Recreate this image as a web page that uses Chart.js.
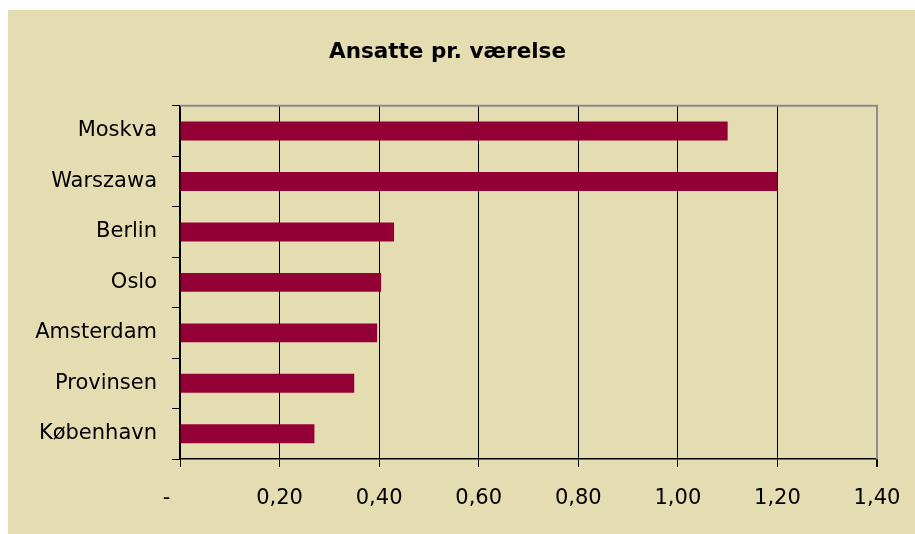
<!DOCTYPE html>
<html>
<head>
<meta charset="utf-8">
<script src="https://cdn.jsdelivr.net/npm/chart.js@4.4.1/dist/chart.umd.min.js"></script>
<style>
  html, body { margin: 0; padding: 0; background: #ffffff; }
  #wrap { position: absolute; left: 8px; top: 10px; width: 907px; height: 524px; background: #e5ddb2; }
  canvas { display: block; }
</style>
</head>
<body>
<div id="wrap"><canvas id="c" width="907" height="524"></canvas></div>
<script>
const title = 'Ansatte pr. værelse';
const categories = ['Moskva', 'Warszawa', 'Berlin', 'Oslo', 'Amsterdam', 'Provinsen', 'København'];
const values = [1.10, 1.20, 0.43, 0.404, 0.396, 0.35, 0.27];
const tickValues = [0, 0.2, 0.4, 0.6, 0.8, 1.0, 1.2, 1.4];
const tickLabels = ['-    ', '0,20', '0,40', '0,60', '0,80', '1,00', '1,20', '1,40'];

const FONT = "'DejaVu Sans', sans-serif";

const borderPlugin = {
  id: 'plotBorder',
  beforeDatasetsDraw(chart) {
    const a = chart.chartArea, ctx = chart.ctx;
    ctx.save();
    ctx.strokeStyle = '#8c8c8c';
    ctx.lineWidth = 2;
    ctx.beginPath();
    ctx.moveTo(a.left, a.top);
    ctx.lineTo(a.right, a.top);
    ctx.lineTo(a.right, a.bottom);
    ctx.stroke();
    ctx.restore();
  }
};

new Chart(document.getElementById('c'), {
  type: 'bar',
  data: {
    labels: categories,
    datasets: [{
      data: values,
      backgroundColor: '#930036',
      borderWidth: 0,
      barPercentage: 0.375,
      categoryPercentage: 1
    }]
  },
  plugins: [borderPlugin],
  options: {
    indexAxis: 'y',
    responsive: false,
    animation: false,
    layout: { padding: { left: 0, right: 28, top: 0, bottom: 0 } },
    plugins: {
      legend: { display: false },
      tooltip: { enabled: false },
      title: {
        display: true,
        text: title,
        color: '#000',
        font: { family: FONT, size: 21.5, weight: 'bold', lineHeight: 1.2 },
        padding: { top: 30, bottom: 40 }
      }
    },
    scales: {
      x: {
        min: 0,
        max: 1.4,
        afterBuildTicks(scale) { scale.ticks = tickValues.map(v => ({ value: v })); },
        afterFit(scale) { scale.height = 75; scale.paddingRight = 0; scale.paddingLeft = 0; },
        ticks: {
          color: '#000',
          font: { family: FONT, size: 21 },
          padding: 19,
          maxRotation: 0,
          autoSkip: false,
          callback: (v, i) => tickLabels[i]
        },
        grid: {
          color: (ctx) => (ctx.tick && ctx.tick.value === 1.4) ? '#8c8c8c' : '#000',
          lineWidth: (ctx) => (ctx.tick && ctx.tick.value === 1.4) ? 2 : 1,
          tickLength: 8,
          tickColor: '#000',
          drawOnChartArea: true
        },
        border: { display: true, color: '#000', width: 1.5 }
      },
      y: {
        afterFit(scale) { scale.width = 172; scale.paddingTop = 0; scale.paddingBottom = 0; },
        ticks: {
          color: '#000',
          font: { family: FONT, size: 21 },
          padding: 15
        },
        grid: {
          offset: true,
          drawOnChartArea: false,
          drawTicks: true,
          tickLength: 8,
          color: '#000'
        },
        border: { display: true, color: '#000', width: 1.5 }
      },
      ySpacer: {
        type: 'category',
        labels: categories,
        position: 'right',
        display: true,
        afterFit(scale) { scale.width = 10; scale.paddingTop = 0; scale.paddingBottom = 0; },
        ticks: { display: false },
        grid: { display: false },
        border: { display: false }
      }
    }
  }
});
</script>
</body>
</html>
